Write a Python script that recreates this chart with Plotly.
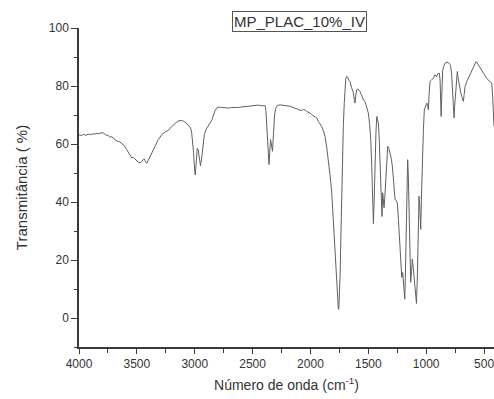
import plotly.graph_objects as go

# FTIR spectrum of sample MP_PLAC_10%_IV
wavenumber = [
    4000, 3980, 3960, 3940, 3920, 3900, 3880, 3862, 3845, 3830, 3810, 3790, 3770, 3747,
    3730, 3715, 3700, 3689, 3670, 3650, 3631, 3610, 3588, 3570, 3545, 3530, 3516, 3500,
    3487, 3470, 3458, 3445, 3438, 3428, 3415, 3400, 3386, 3365, 3343, 3315, 3285, 3255,
    3228, 3200, 3170, 3145, 3127, 3105, 3084, 3060, 3041, 3028, 3020, 3010, 3000, 2995,
    2988, 2978, 2970, 2960, 2950, 2942, 2930, 2917, 2900, 2883, 2868, 2850, 2839, 2825,
    2810, 2790, 2767, 2740, 2710, 2680, 2650, 2623, 2590, 2560, 2537, 2500, 2470, 2450,
    2420, 2392, 2385, 2378, 2370, 2362, 2358, 2352, 2345, 2340, 2333, 2328, 2320, 2310,
    2300, 2285, 2263, 2240, 2205, 2176, 2150, 2133, 2110, 2090, 2075, 2060, 2047, 2032,
    2015, 2004, 1989, 1965, 1946, 1932, 1915, 1903, 1888, 1874, 1860, 1845, 1830, 1816,
    1805, 1794, 1783, 1773, 1765, 1759, 1755, 1750, 1744, 1737, 1730, 1723, 1716, 1708,
    1701, 1695, 1687, 1678, 1668, 1658, 1645, 1635, 1629, 1620, 1615, 1609, 1600, 1590,
    1580, 1572, 1560, 1543, 1528, 1515, 1500, 1489, 1479, 1470, 1462, 1456, 1450, 1442,
    1434, 1427, 1420, 1413, 1406, 1399, 1392, 1386, 1382, 1376, 1370, 1364, 1357, 1347,
    1340, 1332, 1322, 1312, 1302, 1292, 1280, 1269, 1260, 1249, 1240, 1226, 1218, 1211,
    1203, 1196, 1189, 1185, 1180, 1174, 1167, 1160, 1155, 1146, 1140, 1134, 1127, 1120,
    1112, 1105, 1097, 1090, 1084, 1076, 1068, 1062, 1055, 1047, 1040, 1033, 1024, 1016,
    1005, 995, 988, 981, 975, 967, 955, 938, 925, 909, 900, 886, 880, 875,
    871, 866, 857, 845, 837, 820, 808, 795, 788, 780, 771, 764, 759, 754,
    748, 742, 736, 731, 725, 714, 703, 693, 685, 679, 672, 664, 650, 636,
    620, 607, 590, 578, 569, 560, 550, 535, 520, 505, 491, 475, 460, 454,
    440, 434, 425, 420, 414,
]

transmittance = [
    63.2, 62.9, 63.3, 63.0, 63.4, 63.2, 63.5, 63.4, 63.7, 63.5, 63.9, 63.8, 63.2, 62.9,
    62.3, 62.6, 61.8, 61.5, 61.0, 60.8, 60.3, 59.5, 58.1, 56.8, 55.2, 55.4, 54.9, 54.2,
    53.7, 53.6, 53.9, 54.6, 54.9, 54.2, 53.3, 54.5, 55.8, 57.5, 59.2, 61.5, 63.2, 64.2,
    64.7, 66.0, 67.2, 67.9, 68.1, 68.0, 67.6, 66.8, 65.9, 64.5, 62.0, 57.0, 50.5, 49.3,
    53.0, 58.5, 58.0, 55.0, 52.5, 54.5, 60.0, 63.2, 65.2, 66.1, 67.2, 68.5, 70.1, 71.5,
    72.4, 72.7, 72.6, 72.4, 72.4, 72.6, 72.5, 72.6, 72.8, 72.9, 73.0, 73.1, 73.3, 73.4,
    73.2, 73.2, 71.5, 67.0, 60.0, 54.0, 52.9, 57.0, 61.5, 60.5, 58.0, 57.5, 63.0, 70.0,
    72.3, 73.3, 73.5, 73.4, 73.2, 73.0, 72.6, 72.4, 72.0, 71.6, 71.6, 71.9, 71.8, 71.2,
    70.9, 70.7, 70.1, 69.4, 69.0, 67.8, 67.0, 66.1, 64.5, 62.6, 59.0, 54.6, 49.0, 43.2,
    35.0, 26.0, 18.0, 11.1, 5.5, 3.1, 3.0, 6.5, 14.5, 28.0, 43.2, 56.0, 66.1, 74.0,
    79.8, 82.5, 83.3, 83.0, 82.0, 81.6, 79.5, 78.5, 77.6, 75.0, 74.1, 76.5, 78.7, 79.0,
    78.5, 78.1, 77.0, 75.3, 74.5, 72.5, 70.7, 67.0, 61.5, 52.0, 43.2, 32.5, 40.0, 54.6,
    64.0, 69.5, 68.5, 67.2, 62.0, 54.6, 45.0, 36.0, 35.0, 43.2, 40.0, 38.0, 42.0, 51.2,
    56.0, 59.2, 58.5, 56.9, 55.0, 52.3, 47.5, 40.9, 40.5, 39.7, 34.0, 26.0, 20.0, 14.0,
    15.7, 11.0, 7.1, 6.5, 14.0, 31.7, 45.0, 54.6, 50.0, 37.5, 24.0, 12.3, 16.0, 20.3,
    17.5, 14.5, 9.0, 5.4, 5.0, 14.5, 30.0, 42.0, 38.0, 30.6, 43.0, 54.6, 65.0, 71.8,
    73.5, 74.1, 73.5, 71.8, 77.0, 81.6, 82.0, 82.7, 83.8, 83.3, 84.2, 84.4, 82.1, 75.0,
    69.5, 76.0, 85.6, 87.0, 87.9, 88.2, 88.1, 87.5, 86.7, 84.0, 78.7, 72.0, 69.0, 73.0,
    77.0, 79.8, 83.0, 85.0, 83.0, 79.8, 78.0, 76.4, 75.0, 74.7, 77.0, 79.8, 81.5, 82.7,
    84.0, 85.6, 87.0, 87.8, 88.4, 88.0, 87.3, 86.7, 85.5, 84.5, 83.3, 82.5, 82.0, 81.6,
    81.2, 81.0, 76.0, 71.8, 66.1,
]

x_ticks = [4000, 3500, 3000, 2500, 2000, 1500, 1000, 500]
y_ticks = [0, 20, 40, 60, 80, 100]

sample_name = "MP_PLAC_10%_IV"

axis_color = "#3a3a3a"
text_color = "#333333"
font_family = "Arial, Liberation Sans, sans-serif"

fig = go.Figure()
fig.add_trace(go.Scatter(
    x=wavenumber,
    y=transmittance,
    mode="lines",
    line=dict(color="#606060", width=1),
    showlegend=False,
    hoverinfo="skip",
))

fig.update_layout(
    width=494,
    height=399,
    margin=dict(l=79, r=0, t=28, b=52),
    paper_bgcolor="white",
    plot_bgcolor="white",
    font=dict(family=font_family, size=12, color=text_color),
    xaxis=dict(
        range=[4000, 414],
        tickvals=x_ticks,
        ticktext=[str(v) for v in x_ticks],
        ticklabeloverflow="allow",
        showgrid=False,
        zeroline=False,
        showline=True,
        linecolor=axis_color,
        linewidth=1.5,
        ticks="outside",
        ticklen=5,
        tickcolor=axis_color,
        tickwidth=1,
        minor=dict(ticks="outside", ticklen=4, tickcolor=axis_color, dtick=250, tick0=0),
        tickfont=dict(size=12, color=text_color),
        title=dict(
            text="Número de onda (cm<sup>-1</sup>)",
            font=dict(size=14, color=text_color),
            standoff=10,
        ),
    ),
    yaxis=dict(
        range=[-10, 100],
        tickvals=y_ticks,
        ticktext=[str(v) for v in y_ticks],
        showgrid=False,
        zeroline=False,
        showline=True,
        linecolor=axis_color,
        linewidth=1.5,
        ticks="outside",
        ticklen=6,
        tickcolor=axis_color,
        tickwidth=1,
        minor=dict(ticks="outside", ticklen=3, tickcolor=axis_color, dtick=10, tick0=0),
        tickfont=dict(size=12, color=text_color),
        title=dict(
            text="Transmitância ( %)",
            font=dict(size=15, color=text_color),
            standoff=18,
        ),
    ),
    annotations=[
        dict(
            text=sample_name,
            xref="paper",
            yref="paper",
            x=0.531,
            y=1.019,
            xanchor="center",
            yanchor="middle",
            showarrow=False,
            font=dict(size=15, color=text_color, family=font_family),
            bordercolor="#555555",
            borderwidth=1,
            borderpad=1,
            bgcolor="white",
        )
    ],
)

fig.write_html("out.html")
